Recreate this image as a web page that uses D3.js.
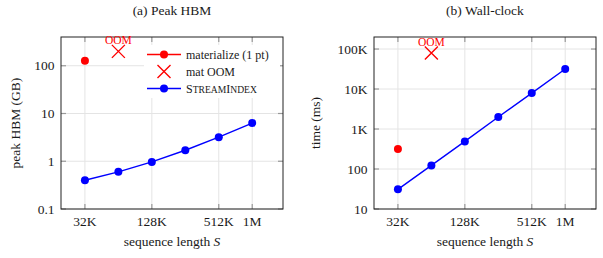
<!DOCTYPE html>
<html>
<head>
<meta charset="utf-8">
<script src="https://cdn.jsdelivr.net/npm/d3@7"></script>
<style>
  body { margin: 0; background: #fff; }
  text { font-family: "Liberation Serif", "DejaVu Serif", serif; fill: #1a1a1a; }
</style>
</head>
<body>
<div id="chart"></div>
<script>
var seqLen = [32768, 65536, 131072, 262144, 524288, 1048576];
var xTicks = [32768, 131072, 524288, 1048576];
var xTickLabels = ["32K", "128K", "512K", "1M"];

var hbmStream = [0.4, 0.6, 0.97, 1.7, 3.2, 6.3];
var hbmMatLen = [32768];
var hbmMat = [128];
var hbmOomLen = [65536];
var hbmOom = [200];
var hbmTicks = [0.1, 1, 10, 100];
var hbmTickLabels = ["0.1", "1", "10", "100"];

var timeStream = [31, 123, 490, 2000, 7900, 31600];
var timeMatLen = [32768];
var timeMat = [316];
var timeOomLen = [65536];
var timeOom = [80000];
var timeTicks = [10, 100, 1000, 10000, 100000];
var timeTickLabels = ["10", "100", "1K", "10K", "100K"];

var svg = d3.select("#chart").append("svg")
  .attr("width", 603)
  .attr("height", 258);

var red = "#ff0000", blue = "#0000ff";
var fs = 13.5;

function cross(cx, cy, s) {
  return "M" + (cx - s) + "," + (cy - s) + "L" + (cx + s) + "," + (cy + s) +
         "M" + (cx - s) + "," + (cy + s) + "L" + (cx + s) + "," + (cy - s);
}

function drawPanel(opt) {
  var left = opt.left, right = opt.left + 222, top = 37, bottom = 209;

  var x = d3.scaleLog().base(2)
    .domain([32768 / Math.pow(2, 0.715), 1048576 * Math.pow(2, 0.92)])
    .range([left, right]);
  var y = d3.scaleLog()
    .domain(opt.yDomain)
    .range([bottom, top]);

  var g = svg.append("g");

  // grid
  g.selectAll(".gx").data(xTicks).enter().append("line")
    .attr("x1", d => x(d)).attr("x2", d => x(d))
    .attr("y1", top).attr("y2", bottom)
    .attr("stroke", "#e4e4e4").attr("stroke-width", 1);
  g.selectAll(".gy").data(opt.yTicks).enter().append("line")
    .attr("x1", left).attr("x2", right)
    .attr("y1", d => y(d)).attr("y2", d => y(d))
    .attr("stroke", "#e4e4e4").attr("stroke-width", 1);

  // inward ticks on all sides
  xTicks.forEach(function(d) {
    g.append("line").attr("x1", x(d)).attr("x2", x(d)).attr("y1", bottom).attr("y2", bottom - 5)
      .attr("stroke", "#999").attr("stroke-width", 1.2);
    g.append("line").attr("x1", x(d)).attr("x2", x(d)).attr("y1", top).attr("y2", top + 5)
      .attr("stroke", "#999").attr("stroke-width", 1.2);
  });
  opt.yTicks.forEach(function(d) {
    g.append("line").attr("x1", left).attr("x2", left + 5).attr("y1", y(d)).attr("y2", y(d))
      .attr("stroke", "#999").attr("stroke-width", 1.2);
    g.append("line").attr("x1", right).attr("x2", right - 5).attr("y1", y(d)).attr("y2", y(d))
      .attr("stroke", "#999").attr("stroke-width", 1.2);
  });

  // tick labels
  g.selectAll(".xl").data(xTicks).enter().append("text")
    .attr("x", d => x(d)).attr("y", 226)
    .attr("text-anchor", "middle").attr("font-size", fs)
    .text((d, i) => xTickLabels[i]);
  g.selectAll(".yl").data(opt.yTicks).enter().append("text")
    .attr("x", left - 6.5).attr("y", d => y(d) + 4.6)
    .attr("text-anchor", "end").attr("font-size", fs)
    .text((d, i) => opt.yTickLabels[i]);

  // legend background (hides grid)
  if (opt.legend) {
    g.append("rect").attr("x", 144).attr("y", 45).attr("width", 136).attr("height", 53)
      .attr("fill", "#fff");
  }

  // frame
  g.append("rect").attr("x", left).attr("y", top)
    .attr("width", right - left).attr("height", bottom - top)
    .attr("fill", "none").attr("stroke", "#222").attr("stroke-width", 1);

  // StreamIndex line
  var line = d3.line().x((d, i) => x(seqLen[i])).y(d => y(d));
  g.append("path").datum(opt.stream)
    .attr("d", line).attr("fill", "none")
    .attr("stroke", blue).attr("stroke-width", 1.4);
  g.selectAll(".bd").data(opt.stream).enter().append("circle")
    .attr("cx", (d, i) => x(seqLen[i])).attr("cy", d => y(d))
    .attr("r", 4).attr("fill", blue);

  // materialize
  g.selectAll(".rd").data(opt.mat).enter().append("circle")
    .attr("cx", (d, i) => x(opt.matLen[i])).attr("cy", d => y(d))
    .attr("r", 4).attr("fill", red);

  // OOM crosses
  opt.oom.forEach(function(d, i) {
    var cx = x(opt.oomLen[i]), cy = y(d);
    g.append("path").attr("d", cross(cx, cy, 6.5))
      .attr("stroke", red).attr("stroke-width", 1.4).attr("fill", "none");
    g.append("text").attr("x", cx).attr("y", cy - 7)
      .attr("text-anchor", "middle").attr("font-size", 11.5)
      .style("fill", red).text("OOM");
  });

  // titles and axis labels
  g.append("text").attr("x", (left + right) / 2).attr("y", 15)
    .attr("text-anchor", "middle").attr("font-size", fs).text(opt.title);
  var xl = g.append("text").attr("x", (left + right) / 2).attr("y", 246)
    .attr("text-anchor", "middle").attr("font-size", fs);
  xl.append("tspan").text("sequence length ");
  xl.append("tspan").attr("font-style", "italic").text("S");
  g.append("text")
    .attr("transform", "translate(" + opt.yLabelX + "," + ((top + bottom) / 2) + ") rotate(-90)")
    .attr("text-anchor", "middle").attr("font-size", fs).text(opt.yLabel);

  if (opt.legend) {
    var rows = [54.5, 71.5, 88.5];
    var lx0 = 147, lx1 = 181, mx = 164, tx = 186, lfs = 12;
    // materialize
    g.append("line").attr("x1", lx0).attr("x2", lx1).attr("y1", rows[0]).attr("y2", rows[0])
      .attr("stroke", red).attr("stroke-width", 1.4);
    g.append("circle").attr("cx", mx).attr("cy", rows[0]).attr("r", 4).attr("fill", red);
    g.append("text").attr("x", tx).attr("y", rows[0] + 4).attr("font-size", lfs)
      .text("materialize (1 pt)");
    // OOM
    g.append("path").attr("d", cross(mx, rows[1], 6.5))
      .attr("stroke", red).attr("stroke-width", 1.4);
    g.append("text").attr("x", tx).attr("y", rows[1] + 4).attr("font-size", lfs)
      .text("mat OOM");
    // StreamIndex
    g.append("line").attr("x1", lx0).attr("x2", lx1).attr("y1", rows[2]).attr("y2", rows[2])
      .attr("stroke", blue).attr("stroke-width", 1.4);
    g.append("circle").attr("cx", mx).attr("cy", rows[2]).attr("r", 4).attr("fill", blue);
    var st = g.append("text").attr("x", tx).attr("y", rows[2] + 4).attr("font-size", lfs);
    st.append("tspan").text("S");
    st.append("tspan").attr("font-size", 9.6).text("TREAM");
    st.append("tspan").text("I");
    st.append("tspan").attr("font-size", 9.6).text("NDEX");
  }
}

drawPanel({
  left: 61, yDomain: [0.1, 400], yTicks: hbmTicks, yTickLabels: hbmTickLabels,
  stream: hbmStream, mat: hbmMat, matLen: hbmMatLen, oom: hbmOom, oomLen: hbmOomLen,
  title: "(a) Peak HBM", yLabel: "peak HBM (GB)", yLabelX: 20, legend: true
});

drawPanel({
  left: 374, yDomain: [10, 200000], yTicks: timeTicks, yTickLabels: timeTickLabels,
  stream: timeStream, mat: timeMat, matLen: timeMatLen, oom: timeOom, oomLen: timeOomLen,
  title: "(b) Wall-clock", yLabel: "time (ms)", yLabelX: 320, legend: false
});
</script>
</body>
</html>
